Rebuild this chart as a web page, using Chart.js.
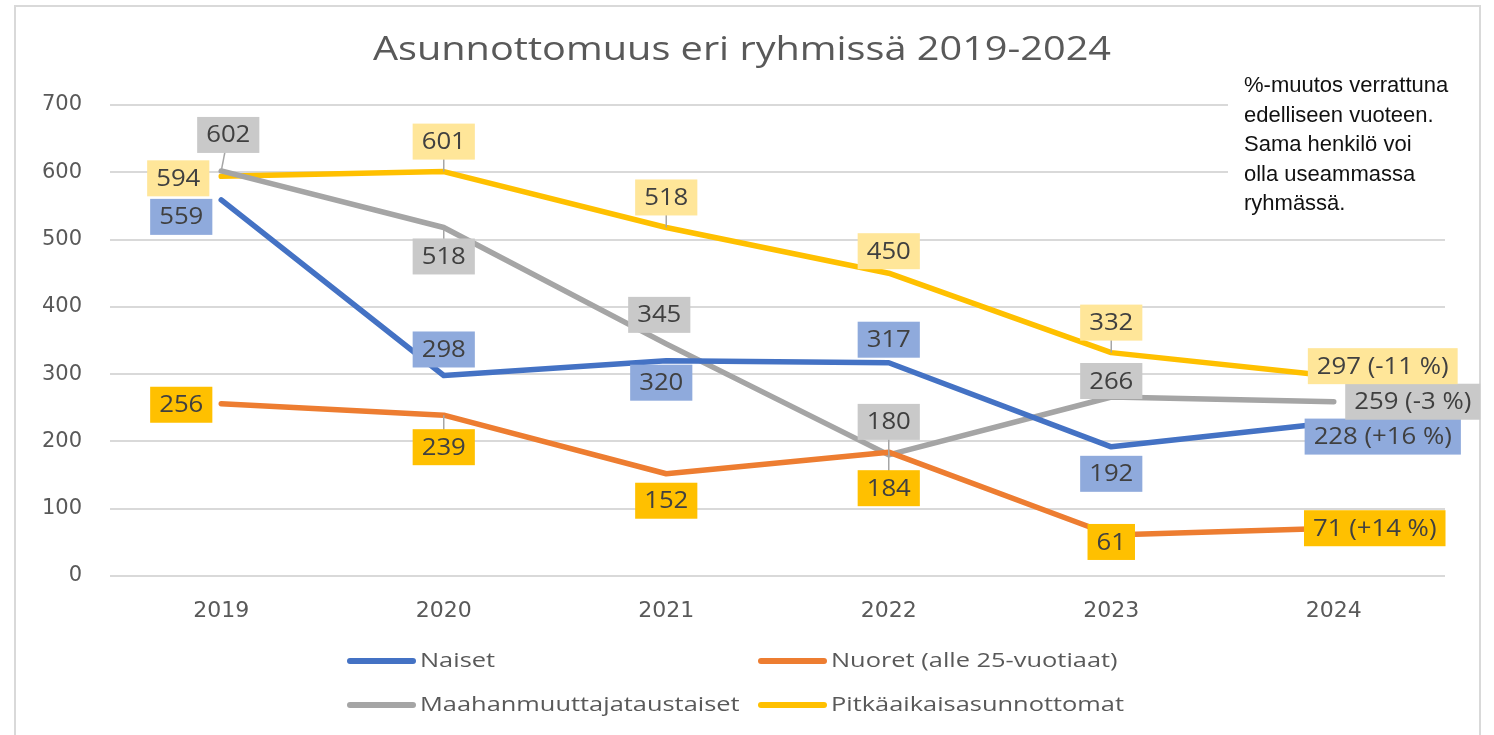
<!DOCTYPE html>
<html lang="fi">
<head>
<meta charset="utf-8">
<title>Asunnottomuus eri ryhmissä 2019-2024</title>
<script src="https://cdn.jsdelivr.net/npm/chart.js@4.4.1/dist/chart.umd.min.js"></script>
<style>
  html, body { margin: 0; padding: 0; background: #fff; }
  #wrap { width: 1494px; height: 735px; }
</style>
</head>
<body>
<div id="wrap"><canvas id="chart" width="1494" height="735"></canvas></div>
<script>
/* ---------- Data ---------- */
const years = ['2019', '2020', '2021', '2022', '2023', '2024'];
const naiset = [559, 298, 320, 317, 192, 228];
const nuoret = [256, 239, 152, 184, 61, 71];
const maahanmuuttajat = [602, 518, 345, 180, 266, 259];
const pitkaaikaiset = [594, 601, 518, 450, 332, 297];
// %-muutos edelliseen vuoteen, shown next to the 2024 value
const muutos2024 = ['+16', '+14', '-3', '-11'];
const yTicks = [0, 100, 200, 300, 400, 500, 600, 700];
const noteLines = ['%-muutos verrattuna', 'edelliseen vuoteen.', 'Sama henkilö voi', 'olla useammassa', 'ryhmässä.'];

/* ---------- Look ---------- */
const FONT = '"Open Sans", "Noto Sans", sans-serif';
const TICK_FONT = '"DejaVu Sans", sans-serif';
const TEXT_GREY = '#595959';

// the original is a little stretched sideways, so text is widened a bit
function wideText(c, text, x, y, sx) {
    c.save();
    c.translate(x, y);
    c.scale(sx, 1);
    c.fillText(text, 0, 0);
    c.restore();
}

/* ---------- Plugins ---------- */
// white card + light frame
const frame = {
    id: 'frame',
    beforeDraw(chart) {
        const c = chart.ctx;
        c.save();
        c.fillStyle = '#fff';
        c.fillRect(0, 0, chart.width, chart.height);
        c.strokeStyle = '#D9D9D9';
        c.lineWidth = 2;
        c.strokeRect(15, 6, 1465, 740);
        c.restore();
    }
};

// value boxes, Excel style (coloured fill, leader line when moved away)
const boxLabels = {
    id: 'boxLabels',
    afterDatasetsDraw(chart) {
        const c = chart.ctx;
        const sx = 1.12;
        c.save();
        c.font = '23px ' + FONT;
        c.textAlign = 'center';
        c.textBaseline = 'middle';
        chart.data.datasets.forEach((ds, di) => {
            const meta = chart.getDatasetMeta(di);
            meta.data.forEach((pt, i) => {
                let text = String(ds.data[i]);
                if (i === ds.data.length - 1) text += ' (' + ds.change + ' %)';
                const w = c.measureText(text).width * sx + 18;
                const h = 36;
                const cx = pt.x + ds.labelOffsets[i][0];
                const cy = pt.y + ds.labelOffsets[i][1];
                if (Math.abs(pt.y - cy) - h / 2 > 11) {
                    c.strokeStyle = '#A6A6A6';
                    c.lineWidth = 1.5;
                    c.beginPath();
                    c.moveTo(pt.x, pt.y);
                    c.lineTo(cx, cy);
                    c.stroke();
                }
                c.fillStyle = ds.labelFill;
                c.fillRect(cx - w / 2, cy - h / 2, w, h);
                c.fillStyle = '#404040';
                wideText(c, text, cx, cy + 1, sx);
            });
        });
        c.restore();
    }
};

// title, note box and two-column legend
const extras = {
    id: 'extras',
    afterDraw(chart) {
        const c = chart.ctx;
        c.save();
        c.fillStyle = TEXT_GREY;
        c.font = '32px ' + FONT;
        c.textAlign = 'center';
        c.textBaseline = 'middle';
        wideText(c, 'Asunnottomuus eri ryhmissä 2019-2024', 742, 51, 1.24);

        c.fillStyle = '#fff';
        c.fillRect(1228, 64, 217, 160);
        c.fillStyle = '#111';
        c.font = '22px "Liberation Sans", Arial, sans-serif';
        c.textAlign = 'left';
        c.textBaseline = 'alphabetic';
        noteLines.forEach((t, i) => c.fillText(t, 1244, 92 + i * 29.5));

        const cols = [347, 758];
        const rows = [661, 705];
        c.font = '20px ' + FONT;
        c.textBaseline = 'middle';
        chart.data.datasets.forEach((ds, i) => {
            const x = cols[i % 2];
            const y = rows[Math.floor(i / 2)];
            c.strokeStyle = ds.borderColor;
            c.lineWidth = 6;
            c.lineCap = 'round';
            c.beginPath();
            c.moveTo(x + 3, y);
            c.lineTo(x + 66, y);
            c.stroke();
            c.fillStyle = TEXT_GREY;
            wideText(c, ds.label, x + 73, y, 1.27);
        });
        c.restore();
    }
};

/* ---------- Chart ---------- */
function series(label, data, color, labelFill, change, labelOffsets) {
    return {
        label, data,
        borderColor: color,
        backgroundColor: color,
        borderWidth: 5.5,
        borderCapStyle: 'round',
        borderJoinStyle: 'round',
        pointRadius: 0,
        tension: 0,
        labelFill, change, labelOffsets
    };
}

new Chart(document.getElementById('chart'), {
    type: 'line',
    data: {
        labels: years,
        datasets: [
            series('Naiset', naiset, '#4472C4', '#8FAADC', muutos2024[0],
                [[-40, 17], [0, -26], [-5, 22], [0, -23], [0, 27], [49, 14]]),
            series('Nuoret (alle 25-vuotiaat)', nuoret, '#ED7D31', '#FFC000', muutos2024[1],
                [[-40, 1], [0, 32], [0, 27], [0, 36], [0, 7], [41, 0]]),
            series('Maahanmuuttajataustaiset', maahanmuuttajat, '#A5A5A5', '#C9C9C9', muutos2024[2],
                [[7, -36], [0, 29], [-7, -29], [0, -33], [0, -16], [79, 0]]),
            series('Pitkäaikaisasunnottomat', pitkaaikaiset, '#FFC000', '#FFE699', muutos2024[3],
                [[-43, 2], [0, -30], [0, -30], [0, -22], [0, -30], [49, -10]])
        ]
    },
    options: {
        responsive: false,
        animation: false,
        layout: { padding: { left: 15, right: 49, top: 105, bottom: 109 } },
        plugins: {
            legend: { display: false },
            title: { display: false },
            tooltip: { enabled: false }
        },
        scales: {
            x: {
                offset: true,
                grid: { display: false },
                border: { display: false },
                ticks: { color: TEXT_GREY, font: { family: TICK_FONT, size: 22 }, padding: 14 },
                afterFit(s) { s.height = 50; }
            },
            y: {
                min: 0,
                max: 700,
                afterBuildTicks(s) { s.ticks = yTicks.map(v => ({ value: v })); },
                ticks: { color: TEXT_GREY, font: { family: TICK_FONT, size: 21 }, padding: 28 },
                grid: { color: '#D9D9D9', lineWidth: 2, drawTicks: false },
                border: { display: false },
                afterFit(s) { s.width = 95; }
            }
        }
    },
    plugins: [frame, boxLabels, extras]
});
</script>
</body>
</html>
